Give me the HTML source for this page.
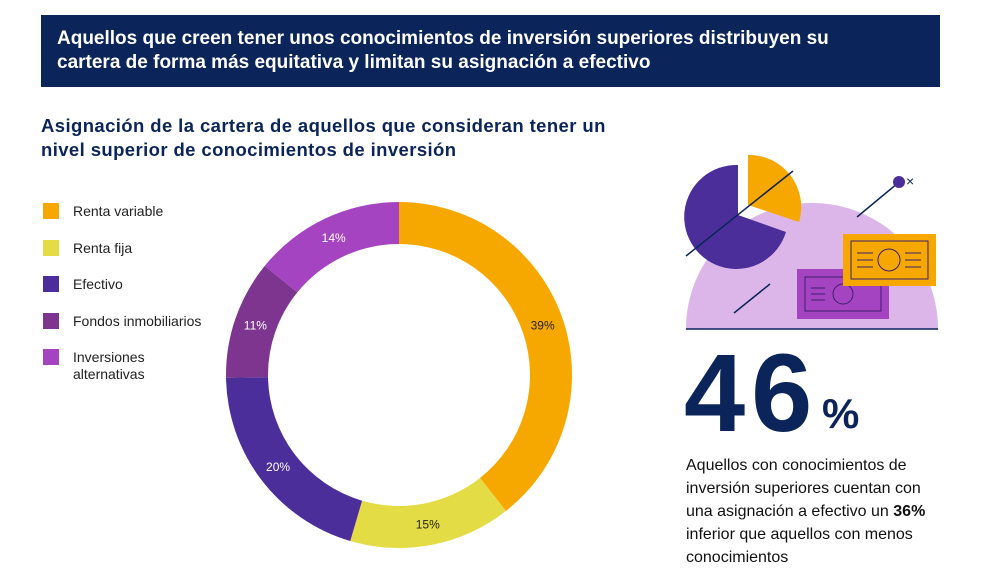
<!DOCTYPE html>
<html><head><meta charset="utf-8"><style>
body{margin:0;width:992px;height:584px;background:#fff;font-family:"Liberation Sans",sans-serif;position:relative;overflow:hidden}
.hdr{position:absolute;left:41px;top:15px;width:899px;height:72px;background:#0b2459;color:#fff;font-weight:bold;font-size:19px;line-height:24px;box-sizing:border-box;padding:12px 70px 12px 16px}
.sub{position:absolute;left:41px;top:114px;color:#0b2459;font-weight:bold;font-size:18.5px;letter-spacing:0.4px;line-height:24px;white-space:nowrap}
.lg{position:absolute;left:43px;font-size:14px;color:#222;line-height:17px}
.lg i{position:absolute;left:0;top:0;width:16px;height:16px}
.lg span{position:absolute;left:30px;top:0;white-space:nowrap}
.big{position:absolute;left:684px;top:339px;font-size:110px;line-height:110px;font-weight:bold;color:#0b2459;letter-spacing:6px}
.pct{position:absolute;left:822px;top:390px;font-size:42px;line-height:48px;font-weight:bold;color:#0b2459}
.para{position:absolute;left:686px;top:454px;font-size:16px;line-height:23px;color:#111;width:258px}
</style></head><body>
<div class="hdr">Aquellos que creen tener unos conocimientos de inversión superiores distribuyen su cartera de forma más equitativa y limitan su asignación a efectivo</div>
<div class="sub">Asignación de la cartera de aquellos que consideran tener un<br>nivel superior de conocimientos de inversión</div>
<div id="legend"></div>
<svg id="donut" style="position:absolute;left:0;top:0" width="992" height="584"></svg>
<svg style="position:absolute;left:0;top:0" width="992" height="584">
<path d="M686 329 A126 126 0 0 1 938 329 Z" fill="#dcb6e8"/>
<line x1="686" y1="329" x2="938" y2="329" stroke="#0b2459" stroke-width="1.5"/>
<path d="M738 215 L738 165 A52 52 0 1 0 786 232 Z" fill="#4b2e9a"/>
<path d="M748 205 L748 155 A52 52 0 0 1 799 222 Z" fill="#f7a800"/>
<line x1="686" y1="256" x2="793" y2="171" stroke="#0b2459" stroke-width="1.5"/>
<line x1="857" y1="217" x2="898" y2="183" stroke="#0b2459" stroke-width="1.5"/>
<circle cx="899" cy="182" r="6" fill="#4b2e9a"/>
<text x="906" y="186" font-size="14" fill="#0b2459" font-family="Liberation Sans">×</text>
<line x1="734" y1="313" x2="770" y2="284" stroke="#0b2459" stroke-width="1.5"/>
<rect x="797" y="269" width="92" height="50" fill="#a544c0"/>
<rect x="805" y="277" width="76" height="34" fill="none" stroke="#3b1f6e" stroke-width="1"/>
<circle cx="843" cy="294" r="10" fill="none" stroke="#3b1f6e"/>
<path d="M811 288h14M811 294h14M811 300h14" stroke="#3b1f6e"/>
<rect x="843" y="234" width="93" height="52" fill="#f7a800"/>
<rect x="851" y="241" width="77" height="38" fill="none" stroke="#3b1f6e" stroke-width="1"/>
<circle cx="889" cy="260" r="11" fill="none" stroke="#3b1f6e"/>
<path d="M857 253h16M857 260h16M857 267h16M905 253h16M905 260h16M905 267h16" stroke="#3b1f6e"/>
</svg>
<div class="big">46</div>
<div class="pct">%</div>
<div class="para">Aquellos con conocimientos de inversión superiores cuentan con una asignación a efectivo un <b>36%</b> inferior que aquellos con menos conocimientos</div>
<script>
const categories=["Renta variable","Renta fija","Efectivo","Fondos inmobiliarios","Inversiones alternativas"];
const values=[39,15,20,11,14];
const labels=["39%","15%","20%","11%","14%"];
const colors=["#f7a800","#e3dc45","#4b2e9a","#7d3590","#a544c0"];
const NS="http://www.w3.org/2000/svg";
const cx=399,cy=375,R=173,r=131;
const total=values.reduce((a,b)=>a+b,0);
function pt(rad,a){return [cx+rad*Math.sin(a),cy-rad*Math.cos(a)];}
const svg=document.getElementById('donut');
let acc=0;
values.forEach((v,i)=>{
  const a0=acc/total*2*Math.PI; acc+=v; const a1=acc/total*2*Math.PI;
  const lg=(a1-a0)>Math.PI?1:0;
  const p1=pt(R,a0),p2=pt(R,a1),p3=pt(r,a1),p4=pt(r,a0);
  const p=document.createElementNS(NS,'path');
  p.setAttribute('d',`M${p1}A${R} ${R} 0 ${lg} 1 ${p2}L${p3}A${r} ${r} 0 ${lg} 0 ${p4}Z`);
  p.setAttribute('fill',colors[i]);
  
  
  svg.appendChild(p);
  const m=pt(152,(a0+a1)/2);
  const t=document.createElementNS(NS,'text');
  t.setAttribute('x',m[0]);t.setAttribute('y',m[1]+4);
  t.setAttribute('text-anchor','middle');t.setAttribute('font-size','12');
  t.setAttribute('font-family','Liberation Sans');
  t.setAttribute('fill',(i>=2)?'#fff':'#222');
  t.textContent=labels[i];
  
  
  svg.appendChild(t);
});
const lgd=document.getElementById('legend');
const ys=[203,240,276,313,349];
categories.forEach((c,i)=>{
  const d=document.createElement('div');d.className='lg';d.style.top=ys[i]+'px';
  
  
  d.innerHTML=`<i style="background:${colors[i]}"></i><span>${i==4?'Inversiones<br>alternativas':c}</span>`;
  lgd.appendChild(d);
});
</script>
</body></html>
